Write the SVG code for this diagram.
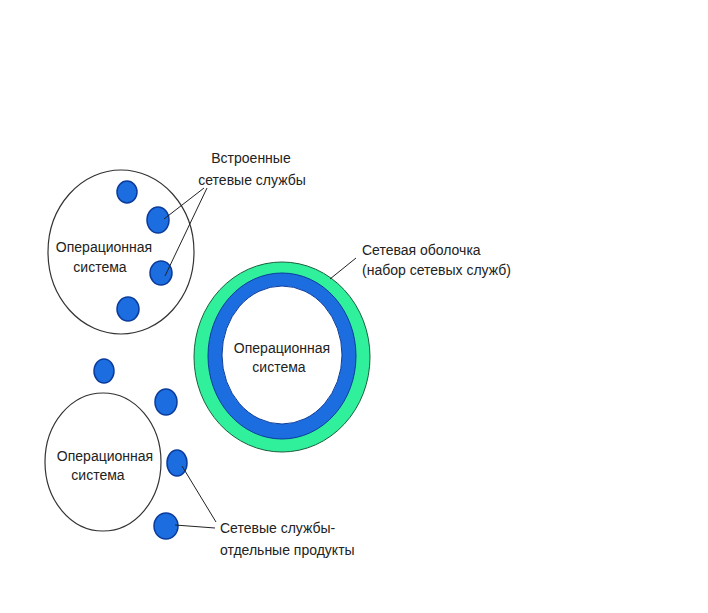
<svg xmlns="http://www.w3.org/2000/svg" width="708" height="613" viewBox="0 0 708 613">
<style>
.os{fill:#fff;stroke:#333;stroke-width:1.2}
.dot{fill:#1c6ee0;stroke:#0b3c9c;stroke-width:1.5}
.t{font-family:"Liberation Sans",Arial,sans-serif;font-size:14px;fill:#222}
.c{text-anchor:middle}
.ln{stroke:#222;stroke-width:1;fill:none}
</style>
<rect width="708" height="613" fill="#fff"/>
<g id="os1">
<ellipse class="os" cx="121" cy="252" rx="73" ry="82"/>
<text class="t c" x="104" y="252">Операционная</text>
<text class="t c" x="100" y="272">система</text>
</g>
<g id="dot1"><ellipse class="dot" cx="127" cy="192" rx="10" ry="11"/></g>
<g id="dot2"><ellipse class="dot" cx="158" cy="220" rx="11" ry="13"/></g>
<g id="dot3"><ellipse class="dot" cx="161" cy="273" rx="11" ry="12"/></g>
<g id="dot4"><ellipse class="dot" cx="128" cy="309" rx="11" ry="12"/></g>
<g id="shell">
<ellipse cx="282" cy="357" rx="88" ry="95" fill="#30f09c" stroke="#1a6040" stroke-width="1"/>
<ellipse cx="282" cy="356" rx="74" ry="83" fill="#1c6ee0" stroke="#0b3c9c" stroke-width="1"/>
<ellipse cx="282" cy="355" rx="60" ry="69" fill="#fff" stroke="#0b3c9c" stroke-width="1"/>
<text class="t c" x="282" y="353">Операционная</text>
<text class="t c" x="279" y="372">система</text>
</g>
<g id="os2">
<ellipse class="os" cx="103" cy="462" rx="58" ry="69"/>
<text class="t c" x="105" y="461">Операционная</text>
<text class="t c" x="98" y="480">система</text>
</g>
<g id="dot5"><ellipse class="dot" cx="104" cy="371" rx="10" ry="12"/></g>
<g id="dot6"><ellipse class="dot" cx="166" cy="402" rx="11" ry="13"/></g>
<g id="dot7"><ellipse class="dot" cx="177" cy="463" rx="10" ry="13"/></g>
<g id="dot8"><ellipse class="dot" cx="166" cy="526" rx="12" ry="13"/></g>
<g id="connectors">
<line class="ln" x1="204" y1="188" x2="164" y2="219"/>
<line class="ln" x1="207" y1="188" x2="165" y2="276"/>
<line class="ln" x1="356" y1="258" x2="330" y2="279"/>
<line class="ln" x1="182" y1="466" x2="216" y2="522"/>
<line class="ln" x1="175" y1="525" x2="215" y2="528"/>
</g>
<g id="labels">
<text class="t c" x="251" y="163">Встроенные</text>
<text class="t c" x="252" y="185">сетевые службы</text>
<text class="t" x="362" y="255">Сетевая оболочка</text>
<text class="t" x="362" y="275">(набор сетевых служб)</text>
<text class="t" x="220" y="533">Сетевые службы-</text>
<text class="t" x="220" y="555">отдельные продукты</text>
</g>
</svg>
